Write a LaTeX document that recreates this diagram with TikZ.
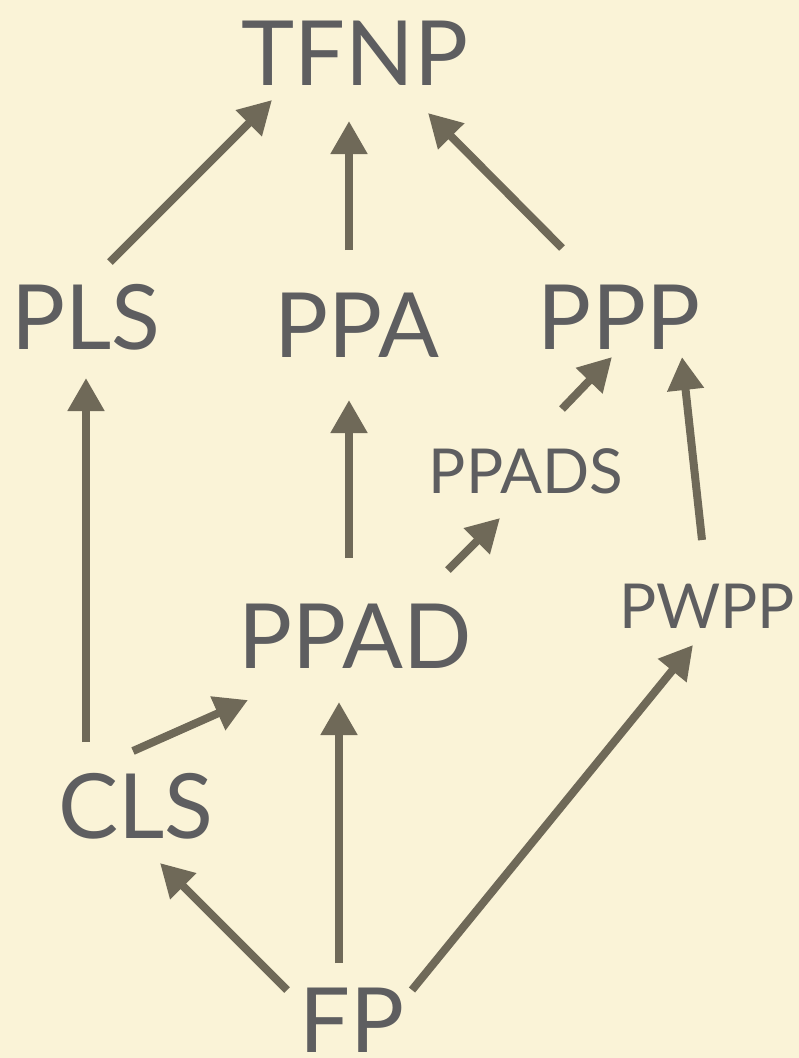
\documentclass[tikz,border=0pt]{standalone}
\usepackage{fontspec}
\setmainfont{Lato}
\usetikzlibrary{arrows.meta,calc}
\definecolor{bg}{RGB}{250,243,215}
\definecolor{txt}{RGB}{94,94,96}
\definecolor{arr}{RGB}{111,105,88}
\tikzset{
  big/.style={inner sep=0pt,anchor=base,text=txt,font=\fontsize{90}{90}\selectfont},
  small/.style={inner sep=0pt,anchor=base,text=txt,font=\fontsize{62}{62}\selectfont},
  link/.style={draw=arr,line width=8pt,-{Triangle[length=33pt,width=35pt]}}
}
\begin{document}
\begin{tikzpicture}[x=1pt,y=-1pt]
\fill[bg] (0,0) rectangle (799,1058);
\useasboundingbox (0,0) rectangle (799,1058);
\node[big] (TFNP) at (355,85) {TFNP};
\node[big] (PLS) at (86,349) {PLS};
\node[big] (PPA) at (357,357) {PPA};
\node[big] (PPP) at (619,349) {PPP};
\node[small] (PPADS) at (526,493) {PPADS};
\node[small] (PWPP) at (707,628) {PWPP};
\node[big] (PPAD) at (355,668) {PPAD};
\node[big] (CLS) at (136,838) {CLS};
\node[big] (FP) at (352,1052) {FP};
% connectors (offsets from the baseline anchors)
\draw[link] ($(PLS.base)+(24,-87)$) -- ($(TFNP.base)+(-83,15)$);
\draw[link] ($(PPA.base)+(-8,-107)$) -- ($(TFNP.base)+(-6,36)$);
\draw[link] ($(PPP.base)+(-57,-101)$) -- ($(TFNP.base)+(73,28)$);
\draw[link] ($(CLS.base)+(-50,-96)$) -- ($(PLS.base)+(0,29)$);
\draw[link] ($(PPAD.base)+(-6,-110)$) -- ($(PPA.base)+(-8,43)$);
\draw[link] ($(PPADS.base)+(36,-84)$) -- ($(PPP.base)+(-7,8)$);
\draw[link] ($(PPAD.base)+(93,-98)$) -- ($(PPADS.base)+(-26,25)$);
\draw[link] ($(PWPP.base)+(-5,-88)$) -- ($(PPP.base)+(63,8)$);
\draw[link] ($(CLS.base)+(-3,-87)$) -- ($(PPAD.base)+(-107,32)$);
\draw[link] ($(FP.base)+(-13,-89)$) -- ($(PPAD.base)+(-16,34)$);
\draw[link] ($(FP.base)+(-65,-62)$) -- ($(CLS.base)+(24,25)$);
\draw[link] ($(FP.base)+(60,-62)$) -- ($(PWPP.base)+(-14,17)$);
\end{tikzpicture}
\end{document}
